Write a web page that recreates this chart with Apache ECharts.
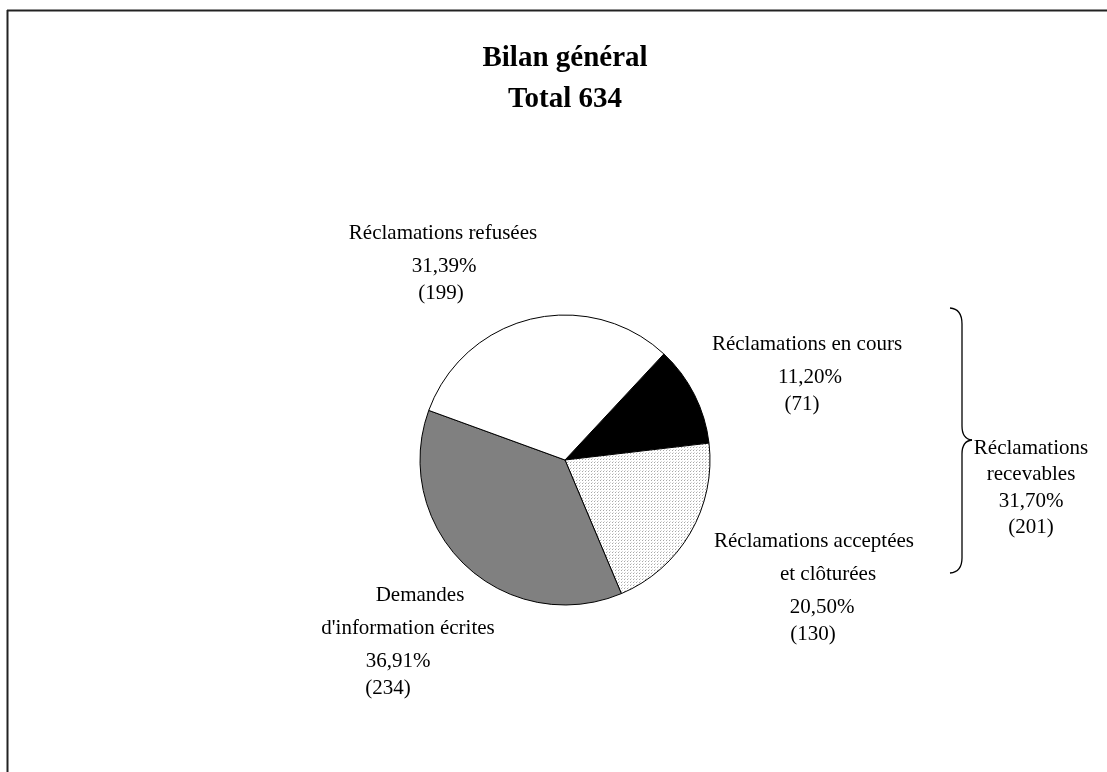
<!DOCTYPE html>
<html>
<head>
<meta charset="utf-8">
<script src="https://cdn.jsdelivr.net/npm/echarts@6/dist/echarts.min.js"></script>
<style>
  html, body { margin: 0; padding: 0; background: #fff; }
  #chart { width: 1107px; height: 772px; }
</style>
</head>
<body>
<div id="chart"></div>
<script>
// ---- data ----
const titleLines = ['Bilan général', 'Total 634'];
const categories = ['Réclamations en cours', 'Réclamations acceptées\net clôturées', "Demandes\nd'information écrites", 'Réclamations refusées'];
const values = [71, 130, 234, 199];
const groupLabel = ['Réclamations', 'recevables'];
const groupMembers = [0, 1]; // indices of categories forming "recevables"

// ---- helpers ----
const total = values.reduce((a, b) => a + b, 0);
const pct = v => (v / total * 100).toFixed(2).replace('.', ',') + '%';

function stipple() {
  const c = document.createElement('canvas');
  c.width = 3; c.height = 3;
  const g = c.getContext('2d');
  g.fillStyle = '#ffffff'; g.fillRect(0, 0, 3, 3);
  g.fillStyle = '#a8a8a8'; g.fillRect(0, 0, 1, 1);
  g.fillStyle = '#d8d8d8'; g.fillRect(1, 2, 1, 1);
  return c;
}
const fills = ['#000000', { image: stipple(), repeat: 'repeat' }, '#808080', '#ffffff'];

// label block top-centre anchors (layout only)
const labelAnchors = [
  [807, 328],
  [814, 525],
  [408, 579],
  [443, 217]
];
// per-line horizontal nudges (px) for each label block: [name lines..., pct, count]
const lineShift = [
  [0, 3, -5],
  [0, 14, 8, -1],
  [12, 0, -10, -20],
  [0, 1, -2]
];

const FONT = '"Liberation Serif", "Times New Roman", serif';
const cx = 565, cy = 460;

const groupSum = groupMembers.reduce((a, i) => a + values[i], 0);

const braceStyle = { stroke: '#000', lineWidth: 1.3, fill: null };

function pad(d) { return d >= 0 ? [0, 0, 0, 2 * d] : [0, -2 * d, 0, 0]; }

const rich = {};
lineShift.forEach((arr, i) => arr.forEach((d, j) => {
  const n = arr.length;
  const lh = j < n - 2 ? 33 : (j === n - 2 ? 33 : 20);
  rich['l' + i + '_' + j] = { fontFamily: FONT, fontSize: 21, color: '#000', lineHeight: lh, padding: pad(d) };
}));

const chart = echarts.init(document.getElementById('chart'), null, { renderer: 'canvas' });
chart.setOption({
  backgroundColor: '#ffffff',
  animation: false,
  title: {
    text: titleLines.join('\n'),
    left: 560, top: 33, textAlign: 'center',
    textStyle: { fontFamily: FONT, fontWeight: 'bold', fontSize: 29, lineHeight: 41, color: '#000' }
  },
  series: [{
    type: 'pie',
    center: [cx, cy],
    radius: 145,
    startAngle: 47,
    clockwise: true,
    avoidLabelOverlap: false,
    data: categories.map((n, i) => ({ name: n, value: values[i], itemStyle: { color: fills[i] } })),
    itemStyle: { borderColor: '#000', borderWidth: 1 },
    emphasis: { disabled: true },
    labelLine: { show: false },
    label: {
      show: true,
      position: 'outside',
      fontFamily: FONT,
      color: '#000',
      formatter: p => {
        const i = p.dataIndex;
        const lines = p.name.split('\n').concat([pct(p.value), '(' + p.value + ')']);
        return lines.map((s, j) => '{l' + i + '_' + j + '|' + s + '}').join('\n');
      },
      rich: rich
    },
    labelLayout: p => ({
      x: labelAnchors[p.dataIndex][0],
      y: labelAnchors[p.dataIndex][1],
      align: 'center',
      verticalAlign: 'top'
    })
  }],
  graphic: [
    { type: 'line', shape: { x1: 7, y1: 10.5, x2: 1107, y2: 10.5 }, style: { stroke: '#222', lineWidth: 2 } },
    { type: 'line', shape: { x1: 7.5, y1: 10, x2: 7.5, y2: 772 }, style: { stroke: '#222', lineWidth: 2 } },
    { type: 'bezierCurve', shape: { x1: 950, y1: 308, cpx1: 962, cpy1: 309, x2: 962, y2: 324 }, style: braceStyle },
    { type: 'line', shape: { x1: 962, y1: 324, x2: 962, y2: 426 }, style: braceStyle },
    { type: 'bezierCurve', shape: { x1: 962, y1: 426, cpx1: 962, cpy1: 439, x2: 972, y2: 440 }, style: braceStyle },
    { type: 'bezierCurve', shape: { x1: 972, y1: 440, cpx1: 962, cpy1: 441, x2: 962, y2: 454 }, style: braceStyle },
    { type: 'line', shape: { x1: 962, y1: 454, x2: 962, y2: 558 }, style: braceStyle },
    { type: 'bezierCurve', shape: { x1: 962, y1: 558, cpx1: 962, cpy1: 572, x2: 950, y2: 573 }, style: braceStyle },
    { type: 'text', x: 1031, y: 435,
      style: {
        text: groupLabel.join('\n') + '\n' + pct(groupSum) + '\n(' + groupSum + ')',
        font: '21px ' + FONT, lineHeight: 26.5, align: 'center', fill: '#000'
      } }
  ]
});
</script>
</body>
</html>
